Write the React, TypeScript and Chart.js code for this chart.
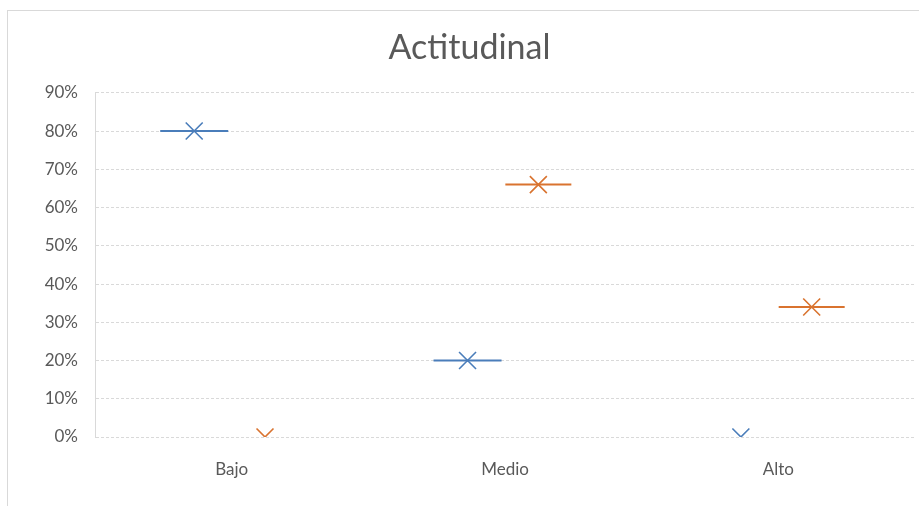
import React, { useEffect, useRef } from "react";
import { Chart, registerables } from "chart.js";

Chart.register(...registerables);

const TITLE = "Actitudinal";
const categories = ["Bajo", "Medio", "Alto"];
const seriesBlue = [80, 20, 0];
const seriesOrange = [0, 66, 34];
const yTicks = [0, 10, 20, 30, 40, 50, 60, 70, 80, 90];

const BLUE = "#4a7dba";
const ORANGE = "#d9732f";
const TEXT = "#595959";
const GRID = "#d9d9d9";
const FONT = "Lato, 'Open Sans', sans-serif";
const BLUE_OFFSET = -0.137;
const ORANGE_OFFSET = 0.122;

export default function App() {
  const ref = useRef<HTMLCanvasElement>(null);

  useEffect(() => {
    if (!ref.current) return;
    const blueData = seriesBlue.map((v, i) => ({ x: i + BLUE_OFFSET, y: v }));
    const orangeData = seriesOrange.map((v, i) => ({ x: i + ORANGE_OFFSET, y: v }));
    const lineClip = { left: 60, right: 60, top: 60, bottom: -1.2 };
    const chart = new Chart(ref.current, {
      type: "scatter",
      data: {
        datasets: [
          {
            label: "Serie 1",
            data: blueData,
            pointStyle: "line",
            pointRadius: 34,
            pointBorderWidth: 2,
            borderColor: BLUE,
            backgroundColor: BLUE,
            showLine: false,
            clip: lineClip,
          },
          {
            label: "Serie 1 x",
            data: blueData,
            pointStyle: "crossRot",
            pointRadius: 12,
            pointBorderWidth: 1.6,
            borderColor: BLUE,
            backgroundColor: BLUE,
            showLine: false,
          },
          {
            label: "Serie 2",
            data: orangeData,
            pointStyle: "line",
            pointRadius: 33,
            pointBorderWidth: 2,
            borderColor: ORANGE,
            backgroundColor: ORANGE,
            showLine: false,
            clip: lineClip,
          },
          {
            label: "Serie 2 x",
            data: orangeData,
            pointStyle: "crossRot",
            pointRadius: 12,
            pointBorderWidth: 1.6,
            borderColor: ORANGE,
            backgroundColor: ORANGE,
            showLine: false,
          },
        ],
      },
      options: {
        animation: false,
        responsive: false,
        layout: { autoPadding: false, padding: { left: 16, right: 4, top: 0, bottom: 0 } },
        plugins: {
          legend: { display: false },
          tooltip: { enabled: false },
          title: {
            display: true,
            text: TITLE,
            color: TEXT,
            font: { family: FONT, size: 34, weight: "normal" },
            padding: { top: 17, bottom: 24 },
          },
        },
        scales: {
          x: {
            type: "linear",
            min: -0.5,
            max: categories.length - 0.5,
            grid: { display: false, drawTicks: false },
            border: { display: false },
            afterBuildTicks: (scale: any) => {
              scale.ticks = categories.map((_, i) => ({ value: i }));
            },
            afterFit: (scale: any) => {
              scale.height = 69;
              scale.paddingLeft = 0;
              scale.paddingRight = 0;
            },
            ticks: {
              color: TEXT,
              padding: 22,
              font: { family: FONT, size: 17 },
              callback: (v: any) => categories[Math.round(Number(v))] ?? "",
            },
          },
          y: {
            min: 0,
            max: 90,
            afterBuildTicks: (scale: any) => {
              scale.ticks = yTicks.map((v) => ({ value: v }));
            },
            afterFit: (scale: any) => {
              scale.width = 71;
              scale.paddingTop = 0;
              scale.paddingBottom = 0;
            },
            grid: {
              color: GRID,
              lineWidth: 1,
              drawTicks: false,
              borderDash: (ctx: any) => (ctx.tick && ctx.tick.value === 90 ? [] : [3, 2]),
            } as any,
            border: { display: true, color: GRID, dash: [3, 2] },
            ticks: {
              color: TEXT,
              padding: 17,
              font: { family: FONT, size: 17 },
              callback: (v: any) => `${v}%`,
            },
          },
        },
      } as any,
    });
    return () => chart.destroy();
  }, []);

  return (
    <div
      style={{
        position: "absolute",
        left: 7,
        top: 10,
        width: 912,
        height: 496,
        boxSizing: "border-box",
        borderLeft: `1px solid ${GRID}`,
        borderTop: `1px solid ${GRID}`,
        background: "#fff",
        overflow: "hidden",
      }}
    >
      <canvas ref={ref} width={911} height={495} style={{ display: "block" }} />
    </div>
  );
}
